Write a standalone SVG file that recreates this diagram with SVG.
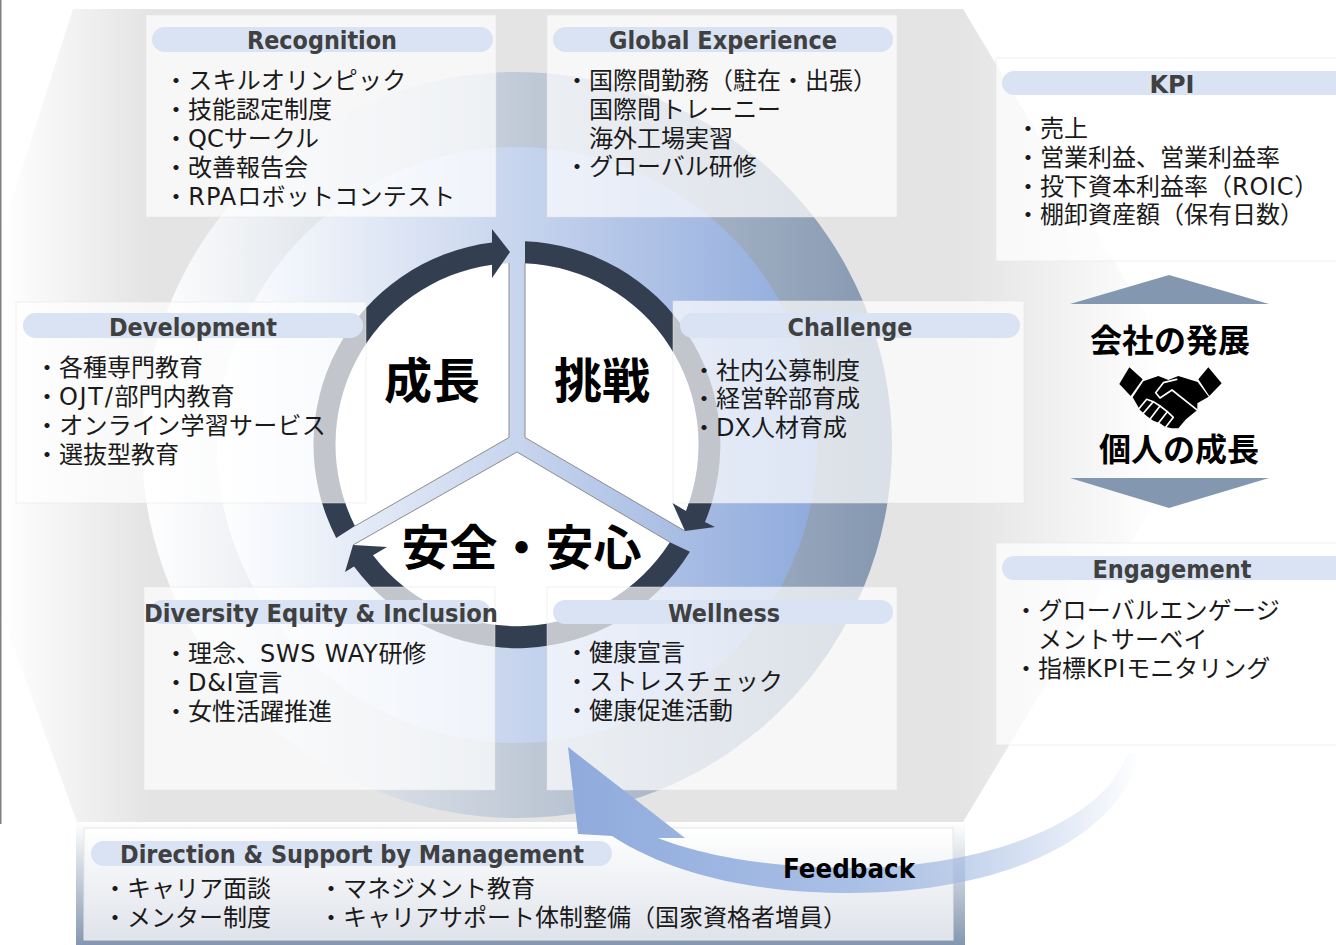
<svg xmlns="http://www.w3.org/2000/svg" width="1336" height="945" viewBox="0 0 1336 945">
<style>
text{font-family:"DejaVu Sans","Noto Sans CJK JP",sans-serif}
.card{fill:#fff;fill-opacity:.7;stroke:#e4e4e4;stroke-opacity:.5;stroke-width:1}
.pill{fill:#d9e3f3}
.h{font-size:24px;font-weight:700;fill:#404040;text-anchor:middle}
.t{font-size:24px;fill:#1a1a1a}
.k{letter-spacing:.25px}
.dark{fill:#333f50}
.sector{fill:#fff}
.edge{fill:none;stroke:#8c8c8c;stroke-width:1}
.big{font-size:48px;font-weight:700;fill:#000;font-family:"Noto Sans CJK JP",sans-serif}
.mid{font-size:32px;font-weight:700;fill:#000;font-family:"Noto Sans CJK JP",sans-serif}
.tri{fill:#8497b0}
</style>
<defs>
<linearGradient id="hexG" gradientUnits="userSpaceOnUse" x1="0" y1="0" x2="1160" y2="0">
<stop offset="0" stop-color="#fff"/><stop offset=".13" stop-color="#e4e4e4"/><stop offset=".83" stop-color="#e4e4e4"/><stop offset="1" stop-color="#fff"/>
</linearGradient>
<linearGradient id="outerG" gradientUnits="userSpaceOnUse" x1="143" y1="0" x2="893" y2="0">
<stop offset="0" stop-color="#fff"/><stop offset="1" stop-color="#8497b0"/>
</linearGradient>
<linearGradient id="innerG" gradientUnits="userSpaceOnUse" x1="217" y1="0" x2="817" y2="0">
<stop offset="0" stop-color="#fff"/><stop offset="1" stop-color="#8faadc"/>
</linearGradient>
<linearGradient id="boxO" x1="0" y1="0" x2="0" y2="1">
<stop offset="0" stop-color="#fff"/><stop offset="1" stop-color="#8497b0"/>
</linearGradient>
<linearGradient id="boxI" x1="0" y1="0" x2="0" y2="1">
<stop offset="0" stop-color="#fff"/><stop offset="1" stop-color="#dfe3ea"/>
</linearGradient>
<linearGradient id="fbG" gradientUnits="userSpaceOnUse" x1="567" y1="0" x2="1140" y2="0">
<stop offset="0" stop-color="#8faadc"/><stop offset=".5" stop-color="#a9c0e6"/><stop offset="1" stop-color="#8faadc" stop-opacity="0"/>
</linearGradient>
</defs>
<rect width="1336" height="945" fill="#fff"/>

<g id="background">
<polygon points="73,9 963,9 1207,416 963,822 77,822 -63,435" fill="url(#hexG)"/>
<rect x="0" y="0" width="1.5" height="824" fill="#808080"/>
<ellipse cx="517" cy="445" rx="375" ry="373" fill="url(#outerG)"/>
<ellipse cx="517" cy="445" rx="300" ry="298" fill="url(#innerG)"/>
</g>

<g id="cycle">
<path class="sector" d="M509,437.5 L509,263.2 A181.5,181.5 0 0 0 354.9,526.1 Z"/>
<path class="sector" d="M525,437.5 L525,263.2 A181.5,181.5 0 0 1 686,511 L685,531 Z"/>
<path class="sector" d="M517,452 L669.9,542.2 A181.5,181.5 0 0 1 373,555.3 L387,547 L353,545 Z"/>
<path class="edge" d="M509,263 V437.5 L354.9,526.1"/>
<path class="edge" d="M525,263 V437.5 L685,531"/>
<path class="edge" d="M353,545 L517,452 L669.9,542.2"/>
<path class="dark" d="M336.2,537.9 A203.5,203.5 0 0 1 492,242.5 L492,229 L510,252 L492,278 L492,264.7 A181.5,181.5 0 0 0 354.9,526.1 Z"/>
<path class="dark" d="M525,241.2 A203.5,203.5 0 0 1 705,522 L715,527 L685,531 L672.5,503 L686,511 A181.5,181.5 0 0 0 525,263.2 Z"/>
<path class="dark" d="M689.9,551.8 A203.5,203.5 0 0 1 354,566.6 L345,572 L353,545 L387,547 L373,555.3 A181.5,181.5 0 0 0 669.9,542.2 Z"/>
<text class="big" x="384" y="398">成長</text>
<text class="big" x="554" y="398">挑戦</text>
<text class="big" x="401.5" y="565">安全・安心</text>
</g>

<g id="recognition">
<rect class="card" x="146" y="15" width="350" height="202"/>
<rect class="pill" x="152" y="27" width="341" height="25" rx="12.5"/>
<text class="h" x="322" y="49" textLength="150" lengthAdjust="spacingAndGlyphs">Recognition</text>
<text class="t k" x="164" y="89">・スキルオリンピック</text>
<text class="t" x="164" y="118">・技能認定制度</text>
<text class="t" x="164" y="147">・QCサークル</text>
<text class="t" x="164" y="176">・改善報告会</text>
<text class="t k" x="164" y="205">・<tspan letter-spacing="1">RPA</tspan>ロボットコンテスト</text>
</g>

<g id="global-experience">
<rect class="card" x="547" y="15" width="350" height="202"/>
<rect class="pill" x="553" y="27" width="340" height="25" rx="12.5"/>
<text class="h" x="723" y="49" textLength="228" lengthAdjust="spacingAndGlyphs">Global Experience</text>
<text class="t" x="565" y="89">・国際間勤務（駐在・出張）</text>
<text class="t" x="589" y="118">国際間トレーニー</text>
<text class="t" x="589" y="147">海外工場実習</text>
<text class="t" x="565" y="175">・グローバル研修</text>
</g>

<g id="development">
<rect class="card" x="16" y="302" width="350" height="201"/>
<rect class="pill" x="23" y="313" width="340" height="25" rx="12.5"/>
<text class="h" x="193" y="336" textLength="168" lengthAdjust="spacingAndGlyphs">Development</text>
<text class="t" x="35" y="376">・各種専門教育</text>
<text class="t" x="35" y="405">・<tspan letter-spacing="1.7">OJT/</tspan>部門内教育</text>
<text class="t k" x="35" y="434">・オンライン学習サービス</text>
<text class="t" x="35" y="463">・選抜型教育</text>
</g>

<g id="challenge">
<rect class="card" x="673" y="301" width="351" height="202"/>
<rect class="pill" x="680" y="313" width="340" height="25" rx="12.5"/>
<text class="h" x="850" y="336" textLength="125" lengthAdjust="spacingAndGlyphs">Challenge</text>
<text class="t" x="692" y="379">・社内公募制度</text>
<text class="t" x="692" y="407">・経営幹部育成</text>
<text class="t" x="692" y="436">・DX人材育成</text>
</g>

<g id="diversity">
<rect class="card" x="144" y="587" width="351" height="203"/>
<rect class="pill" x="150" y="600" width="340" height="24" rx="12"/>
<text class="h" x="321" y="622" textLength="354" lengthAdjust="spacingAndGlyphs">Diversity Equity &amp; Inclusion</text>
<text class="t" x="164" y="662">・理念、<tspan letter-spacing=".7">SWS WAY</tspan>研修</text>
<text class="t" x="164" y="691">・<tspan letter-spacing=".7">D&amp;I</tspan>宣言</text>
<text class="t" x="164" y="720">・女性活躍推進</text>
</g>

<g id="wellness">
<rect class="card" x="547" y="587" width="350" height="203"/>
<rect class="pill" x="553" y="600" width="340" height="24" rx="12"/>
<text class="h" x="724" y="622" textLength="112" lengthAdjust="spacingAndGlyphs">Wellness</text>
<text class="t" x="565" y="661">・健康宣言</text>
<text class="t k" x="565" y="690">・ストレスチェック</text>
<text class="t" x="565" y="719">・健康促進活動</text>
</g>

<g id="kpi">
<rect class="card" x="996" y="58" width="345" height="203"/>
<rect class="pill" x="1002" y="71" width="345" height="24" rx="12"/>
<text class="h" x="1172" y="93" textLength="45" lengthAdjust="spacingAndGlyphs">KPI</text>
<text class="t" x="1016" y="137">・売上</text>
<text class="t" x="1016" y="166">・営業利益、営業利益率</text>
<text class="t" x="1016" y="195">・投下資本利益率（<tspan letter-spacing=".7">ROIC</tspan>）</text>
<text class="t" x="1016" y="223">・棚卸資産額（保有日数）</text>
</g>

<g id="engagement">
<rect class="card" x="996" y="543" width="345" height="202"/>
<rect class="pill" x="1002" y="556" width="345" height="24" rx="12"/>
<text class="h" x="1172" y="578" textLength="159" lengthAdjust="spacingAndGlyphs">Engagement</text>
<text class="t k" x="1014" y="619">・グローバルエンゲージ</text>
<text class="t k" x="1038" y="648">メントサーベイ</text>
<text class="t" x="1014" y="677">・指標<tspan letter-spacing="1">KPI</tspan>モニタリング</text>
</g>

<g id="company-individual">
<polygon class="tri" points="1070,304 1269,304 1169,275"/>
<polygon class="tri" points="1070,478 1269,478 1169,508"/>
<text class="mid" x="1090" y="352">会社の発展</text>
<text class="mid" x="1099" y="461">個人の成長</text>
<g id="handshake" transform="translate(1110,360) scale(.3333)">
<polygon points="58,22 98,58 62,108 28,72" fill="#000"/>
<polygon points="295,22 335,70 298,108 265,58" fill="#000"/>
<path d="M100,64 L145,48 L175,60 L205,48 L263,66 L296,110 L262,130 L262,150 L228,178 L205,205 L185,205 L165,200 L150,190 L130,182 L110,168 L90,150 L68,112 Z" fill="#000"/>
<g fill="none" stroke="#fff" stroke-width="5" stroke-linecap="round" stroke-linejoin="round">
<path d="M200,58 L160,68 L137,98 L150,114 L186,90 L264,152"/>
<path d="M88,145 L110,118 L130,125 L100,160"/>
<path d="M130,125 L150,138 L122,175"/>
<path d="M150,138 L172,155 L145,190"/>
<path d="M172,155 L190,172 L168,200"/>
</g>
</g>
</g>

<g id="direction-support">
<rect x="76" y="822" width="889" height="123" fill="url(#boxO)"/>
<rect x="84" y="828" width="869" height="112" fill="url(#boxI)" stroke="#e6e6e6"/>
<rect class="pill" x="91" y="841" width="521" height="25" rx="12.5"/>
<text class="h" x="352" y="863" textLength="464" lengthAdjust="spacingAndGlyphs">Direction &amp; Support by Management</text>
<text class="t" x="103" y="897">・キャリア面談</text>
<text class="t" x="103" y="926">・メンター制度</text>
<text class="t" x="319" y="897">・マネジメント教育</text>
<text class="t" x="319" y="926">・キャリアサポート体制整備（国家資格者増員）</text>
</g>

<g id="connectors">
<path d="M568,747 L685,838 L658,838 C700,855 770,868 850,868 C970,868 1100,830 1128,753 L1140,753 C1120,840 1000,893 850,893 C770,893 680,880 612,836 L578,834 Z" fill="url(#fbG)"/>
<text x="849" y="878" font-size="26" font-weight="700" fill="#000" text-anchor="middle" textLength="132" lengthAdjust="spacingAndGlyphs">Feedback</text>
</g>
</svg>
